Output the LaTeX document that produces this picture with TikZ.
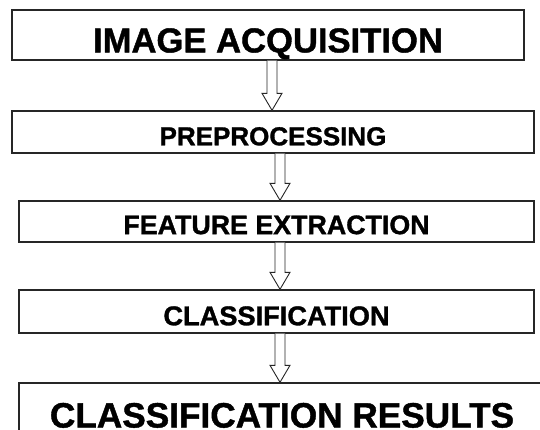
\documentclass[tikz,border=0pt]{standalone}
\usepackage{fontspec}
\setmainfont{Liberation Sans}[BoldFeatures={FakeBold=1.2}]
\usetikzlibrary{calc}
\tikzset{
  stage/.style={draw=black!85, line width=1.4pt, fill=white, inner sep=0pt, text depth=0pt},
  hollow/.style={draw=black!85, line width=0.9pt, fill=white, line join=miter},
}
\newcommand\hollowarrow[3]{%
  \coordinate (hx) at (#1,0);
  \draw[hollow] ($(#2.south -| hx)+(-5,0)$) -- ($(#3.north -| hx)+(-5,-17)$)
    -- ($(#3.north -| hx)+(-10,-17)$) -- (#3.north -| hx)
    -- ($(#3.north -| hx)+(10,-17)$) -- ($(#3.north -| hx)+(5,-17)$)
    -- ($(#2.south -| hx)+(5,0)$);
}
\begin{document}
\begin{tikzpicture}[x=1pt,y=-1pt]
\clip (0,0) rectangle (540,429);
\fill[white] (0,0) rectangle (540,429);
\node[stage, minimum width=512pt, minimum height=50pt, text height=34.8pt,
  font=\bfseries\fontsize{34.6}{40}\selectfont] (b1) at (268,35) {IMAGE ACQUISITION};
\node[stage, minimum width=522pt, minimum height=42pt, text height=26.6pt,
  font=\bfseries\fontsize{26}{30}\selectfont] (b2) at (273,132) {PREPROCESSING};
\node[stage, minimum width=515pt, minimum height=41pt, text height=25.2pt,
  font=\bfseries\fontsize{26.8}{30}\selectfont] (b3) at (276.5,221.5) {FEATURE EXTRACTION};
\node[stage, minimum width=515pt, minimum height=43pt, text height=27.5pt,
  font=\bfseries\fontsize{27.2}{30}\selectfont] (b4) at (276.5,311.5) {CLASSIFICATION};
\node[stage, minimum width=526pt, minimum height=70pt, text height=19pt,
  font=\bfseries\fontsize{35.2}{40}\selectfont] (b5) at (282,418) {CLASSIFICATION RESULTS};
\hollowarrow{272}{b1}{b2}
\hollowarrow{280}{b2}{b3}
\hollowarrow{280}{b3}{b4}
\hollowarrow{280}{b4}{b5}
\end{tikzpicture}
\end{document}
